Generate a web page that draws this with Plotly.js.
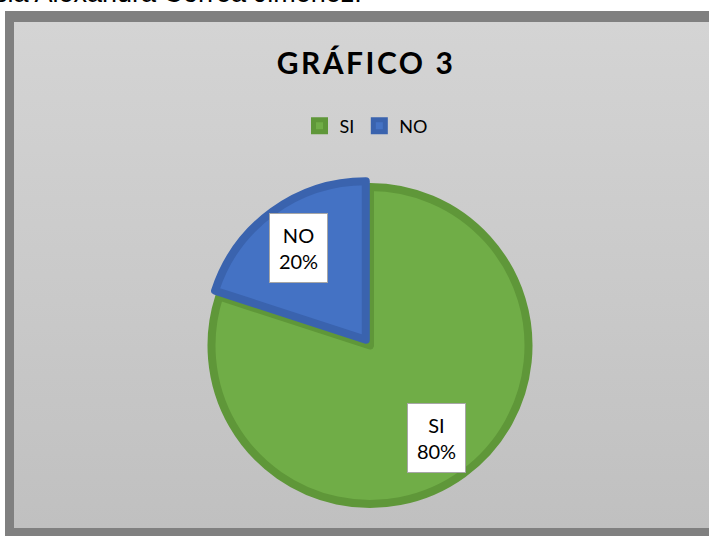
<!DOCTYPE html>
<html>
<head>
<meta charset="utf-8">
<script src="https://cdn.plot.ly/plotly-3.0.1.min.js"></script>
<style>
  html, body { margin: 0; padding: 0; background: #ffffff; }
  #wrap { position: relative; width: 709px; height: 536px; overflow: hidden; }
  #frameOuter { position: absolute; left: 5px; top: 11px; width: 720px; height: 530px; background: #808080; }
  #frameInner { position: absolute; left: 14px; top: 22px; width: 710px; height: 506px;
                background: linear-gradient(to bottom, #d4d4d4 0%, #c9c9c9 55%, #c0c0c0 100%); }
  #chart { position: absolute; left: 0; top: 0; width: 709px; height: 536px; }
  .gtitle { letter-spacing: 2.5px; }
</style>
</head>
<body>
<div id="wrap">
  <div id="frameOuter"></div>
  <div id="frameInner"></div>
  <div id="chart"></div>
</div>
<script>
// ---- data ----
var categories = ['SI', 'NO'];
var values = [80, 20];
var percentLabels = ['80%', '20%'];
var pulls = [0, 0.045];
var chartTitle = 'GRÁFICO 3';
var captionText = 'sia Alexandra Correa Jiménez.';

// ---- styling / layout constants ----
var W = 709, H = 536;
var fillColors = ['#70AD47', '#4472C4'];
var lineColors = ['#5F9739', '#3A63AE'];
var lineW = 8;
var cx = 370, cy = 345.5;          // pie centre (px)
var rVis = 162.5;                  // visible outer radius (px)
var r = rVis - lineW / 2;          // plotly radius
var maxPull = Math.max.apply(null, pulls);
var boxR = r * (1 + maxPull);      // domain half size

var domain = {
  x: [(cx - boxR) / W, (cx + boxR) / W],
  y: [1 - (cy + boxR) / H, 1 - (cy - boxR) / H]
};

var trace = {
  type: 'pie',
  labels: categories,
  values: values,
  pull: pulls,
  sort: false,
  direction: 'clockwise',
  rotation: 0,
  textinfo: 'none',
  hoverinfo: 'label+percent',
  domain: domain,
  marker: { colors: fillColors, line: { color: lineColors, width: lineW } }
};

// data labels placed along each slice bisector
var total = values.reduce(function (a, b) { return a + b; }, 0);
var annotations = [];
var cum = 0;
for (var i = 0; i < values.length; i++) {
  var midFrac = (cum + values[i] / 2) / total;
  cum += values[i];
  var ang = (90 - 360 * midFrac) * Math.PI / 180;
  var dist = 0.7 * rVis + pulls[i] * r;
  var px = cx + dist * Math.cos(ang);
  var py = cy - dist * Math.sin(ang);
  annotations.push({
    xref: 'paper', yref: 'paper',
    x: px / W, y: 1 - py / H,
    xanchor: 'center', yanchor: 'middle',
    showarrow: false,
    text: categories[i] + '<br>' + percentLabels[i],
    font: { family: 'Lato, "Open Sans", sans-serif', size: 20, color: '#000000' },
    bgcolor: '#ffffff',
    bordercolor: '#a6a6a6',
    borderwidth: 1,
    borderpad: 0,
    width: 57,
    height: 68,
    align: 'center'
  });
}

// cut-off caption at the very top of the page (as in the reference)
annotations.push({
  xref: 'paper', yref: 'paper',
  x: 364 / W, y: 1 + 7 / H,
  xanchor: 'right', yanchor: 'middle',
  showarrow: false,
  text: captionText,
  font: { family: '"Liberation Sans", Arial, sans-serif', size: 27, color: '#000000' }
});

var layout = {
  width: W, height: H,
  autosize: false,
  margin: { l: 0, r: 0, t: 0, b: 0, pad: 0 },
  paper_bgcolor: 'rgba(0,0,0,0)',
  plot_bgcolor: 'rgba(0,0,0,0)',
  title: {
    text: chartTitle,
    x: 366 / W, xanchor: 'center', xref: 'container',
    y: 1 - 63.5 / H, yanchor: 'middle', yref: 'container',
    font: { family: 'Lato, "Open Sans", sans-serif', size: 30, weight: 'bold', color: '#000000' }
  },
  showlegend: true,
  legend: {
    orientation: 'h',
    x: 366 / W, xanchor: 'center',
    y: 1 - 126 / H, yanchor: 'middle',
    font: { family: 'Lato, "Open Sans", sans-serif', size: 18, color: '#000000' },
    bgcolor: 'rgba(0,0,0,0)',
    traceorder: 'normal'
  },
  annotations: annotations
};

Plotly.newPlot('chart', [trace], layout, { displayModeBar: false, staticPlot: true });
</script>
</body>
</html>
